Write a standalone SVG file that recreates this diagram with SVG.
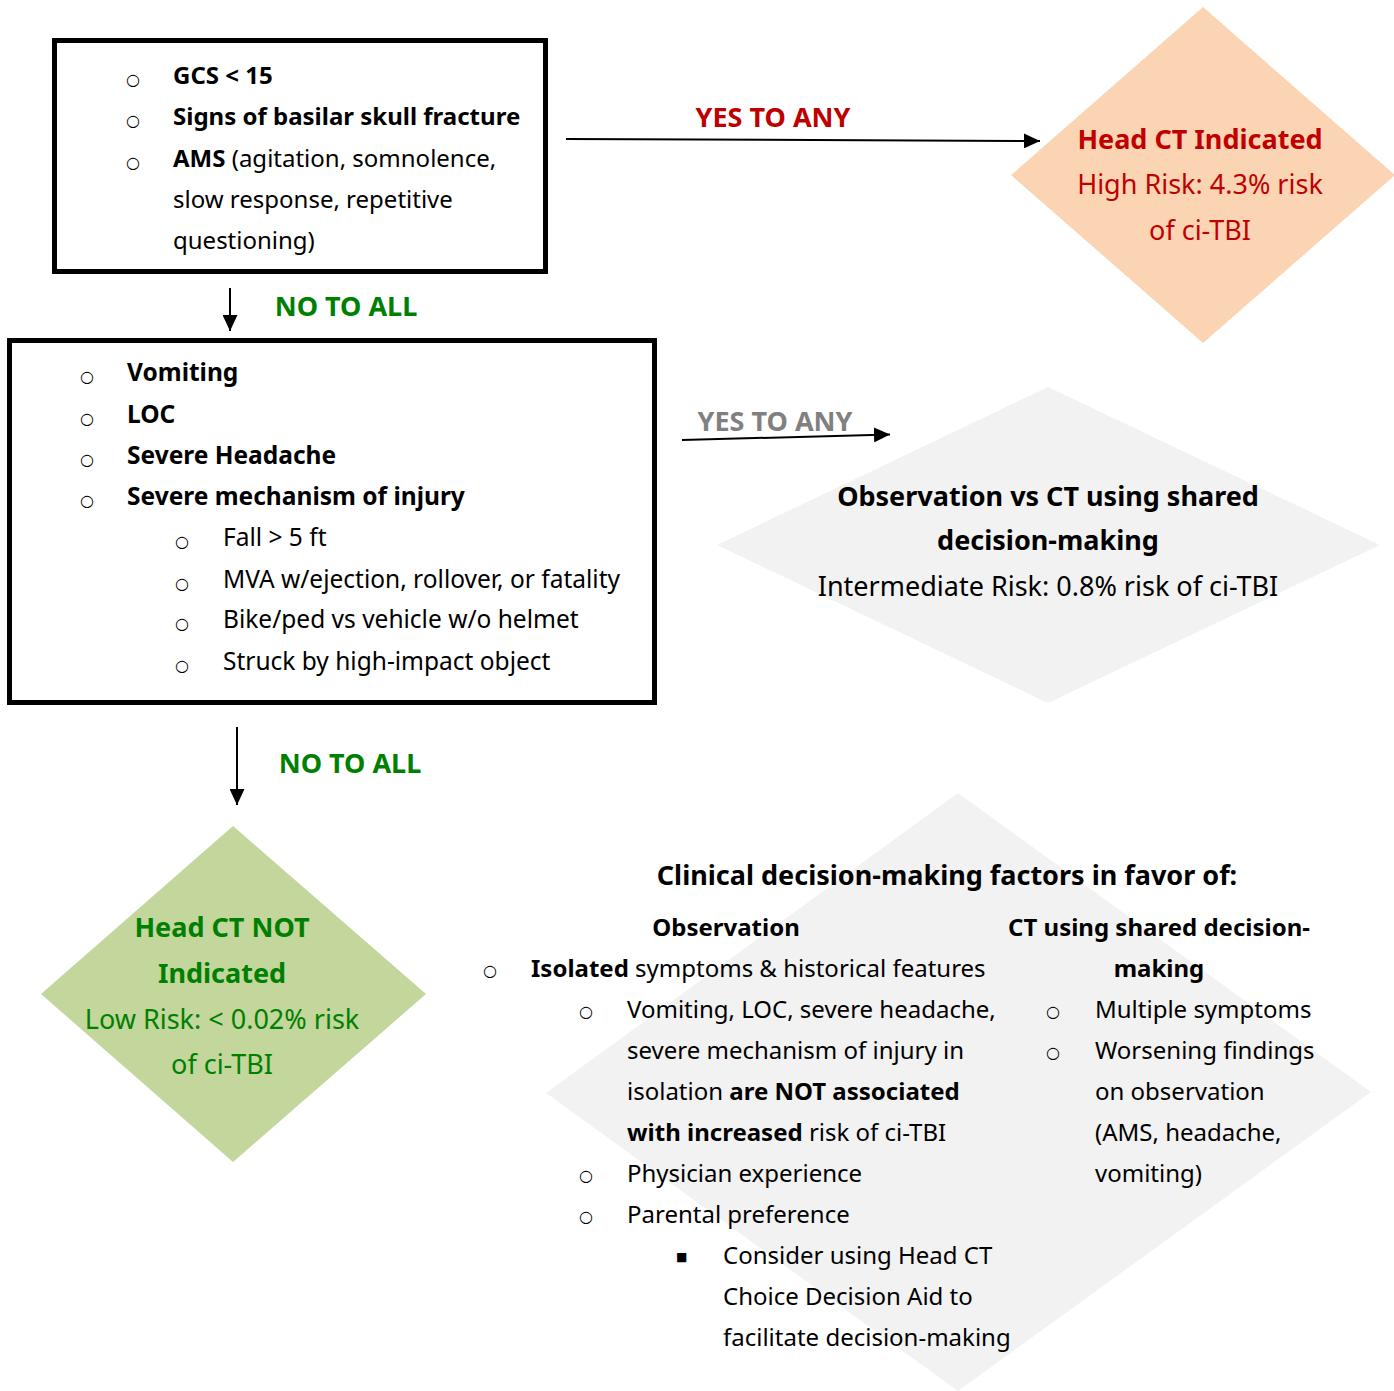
<svg xmlns="http://www.w3.org/2000/svg" width="1394" height="1391" viewBox="0 0 1394 1391">
<style>
text{font-family:'Noto Sans','Open Sans','DejaVu Sans',sans-serif;font-size:24px;fill:#000}
.b{font-weight:bold}
.blt{font-family:'DejaVu Sans',sans-serif;font-size:16px}
.sq{font-family:'DejaVu Sans',sans-serif;font-size:12px}
.lbl{font-size:27px;font-weight:bold}
.dt{font-size:27px;text-anchor:middle}
.box{fill:#fff;stroke:#000;stroke-width:5}
.ln{fill:none;stroke:#000;stroke-width:2}
.mid{text-anchor:middle}
.b2{font-size:24.5px}
</style>
<defs>
<marker id="ah" markerUnits="userSpaceOnUse" markerWidth="16" markerHeight="15" refX="16" refY="7.5" orient="auto">
<path d="M0,0 L16,7.5 L0,15 z" fill="#000"/>
</marker>
</defs>
<rect width="1394" height="1391" fill="#fff"/>

<g id="high-risk-criteria">
<rect class="box" x="54.5" y="40.5" width="491" height="231"/>
<text class="blt" x="126" y="85">○</text>
<text class="b" x="173" y="84">GCS &lt; 15</text>
<text class="blt" x="126" y="126">○</text>
<text class="b" x="173" y="125">Signs of basilar skull fracture</text>
<text class="blt" x="126" y="168">○</text>
<text x="173" y="167"><tspan class="b">AMS</tspan> (agitation, somnolence,</text>
<text x="173" y="208">slow response, repetitive</text>
<text x="173" y="249">questioning)</text>
</g>

<g id="head-ct-indicated">
<polygon points="1203,7 1395,175 1203,343 1011,175" fill="#FBD4B4"/>
<text class="dt b" x="1200" y="149" style="fill:#C00000">Head CT Indicated</text>
<text class="dt" x="1200" y="194" style="fill:#C00000">High Risk: 4.3% risk</text>
<text class="dt" x="1200" y="240" style="fill:#C00000">of ci-TBI</text>
</g>

<g id="intermediate-criteria">
<rect class="box" x="9.5" y="340.5" width="645" height="362"/>
<text class="blt" x="80" y="382">○</text>
<text class="b b2" x="127" y="381">Vomiting</text>
<text class="blt" x="80" y="424">○</text>
<text class="b b2" x="127" y="423">LOC</text>
<text class="blt" x="80" y="465">○</text>
<text class="b b2" x="127" y="464">Severe Headache</text>
<text class="blt" x="80" y="506">○</text>
<text class="b b2" x="127" y="505">Severe mechanism of injury</text>
<text class="blt" x="175" y="547">○</text>
<text class="b2" x="223" y="546">Fall &gt; 5 ft</text>
<text class="blt" x="175" y="589">○</text>
<text class="b2" x="223" y="588">MVA w/ejection, rollover, or fatality</text>
<text class="blt" x="175" y="629">○</text>
<text class="b2" x="223" y="628">Bike/ped vs vehicle w/o helmet</text>
<text class="blt" x="175" y="671">○</text>
<text class="b2" x="223" y="670">Struck by high-impact object</text>
</g>

<g id="shared-decision">
<polygon points="1048,387 1380,545 1048,703 717,545" fill="#F2F2F2"/>
<text class="dt b" x="1048" y="506">Observation vs CT using shared</text>
<text class="dt b" x="1048" y="550">decision-making</text>
<text class="dt" x="1048" y="596">Intermediate Risk: 0.8% risk of ci-TBI</text>
</g>

<g id="head-ct-not-indicated">
<polygon points="233,826 426,994 233,1162 41,994" fill="#C3D69B"/>
<text class="dt b" x="222" y="937" style="fill:#008000">Head CT NOT</text>
<text class="dt b" x="222" y="983" style="fill:#008000">Indicated</text>
<text class="dt" x="222" y="1029" style="fill:#008000">Low Risk: &lt; 0.02% risk</text>
<text class="dt" x="222" y="1074" style="fill:#008000">of ci-TBI</text>
</g>

<g id="decision-factors">
<polygon points="958,793 1371,1092 958,1391 546,1093" fill="#F2F2F2"/>
<text class="b mid" x="947" y="885" style="font-size:27px">Clinical decision-making factors in favor of:</text>
<text class="b mid" x="726" y="936">Observation</text>
<text class="b mid" x="1159" y="936">CT using shared decision-</text>
<text class="b mid" x="1159" y="977">making</text>
<text class="blt" x="483" y="976">○</text>
<text x="531" y="977"><tspan class="b">Isolated</tspan> symptoms &amp; historical features</text>
<text class="blt" x="579" y="1017">○</text>
<text x="627" y="1018">Vomiting, LOC, severe headache,</text>
<text x="627" y="1059">severe mechanism of injury in</text>
<text x="627" y="1100">isolation <tspan class="b">are NOT associated</tspan></text>
<text x="627" y="1141"><tspan class="b">with increased</tspan> risk of ci-TBI</text>
<text class="blt" x="579" y="1181">○</text>
<text x="627" y="1182">Physician experience</text>
<text class="blt" x="579" y="1222">○</text>
<text x="627" y="1223">Parental preference</text>
<text class="sq" x="676" y="1261">■</text>
<text x="723" y="1264">Consider using Head CT</text>
<text x="723" y="1305">Choice Decision Aid to</text>
<text x="723" y="1346">facilitate decision-making</text>
<text class="blt" x="1046" y="1017">○</text>
<text x="1095" y="1018">Multiple symptoms</text>
<text class="blt" x="1046" y="1058">○</text>
<text x="1095" y="1059">Worsening findings</text>
<text x="1095" y="1100">on observation</text>
<text x="1095" y="1141">(AMS, headache,</text>
<text x="1095" y="1182">vomiting)</text>
</g>

<g id="connectors">
<line class="ln" x1="566" y1="139" x2="1040" y2="141" marker-end="url(#ah)"/>
<text class="lbl mid" x="773" y="127" style="fill:#C00000">YES TO ANY</text>
<line class="ln" x1="230" y1="288" x2="230" y2="331" marker-end="url(#ah)"/>
<text class="lbl mid" x="346" y="316" style="fill:#008000">NO TO ALL</text>
<line class="ln" x1="682" y1="440" x2="890" y2="434.5" marker-end="url(#ah)"/>
<text class="lbl mid" x="775" y="431" style="fill:#808080">YES TO ANY</text>
<line class="ln" x1="237" y1="727" x2="237" y2="805" marker-end="url(#ah)"/>
<text class="lbl mid" x="350" y="773" style="fill:#008000">NO TO ALL</text>
</g>
</svg>
